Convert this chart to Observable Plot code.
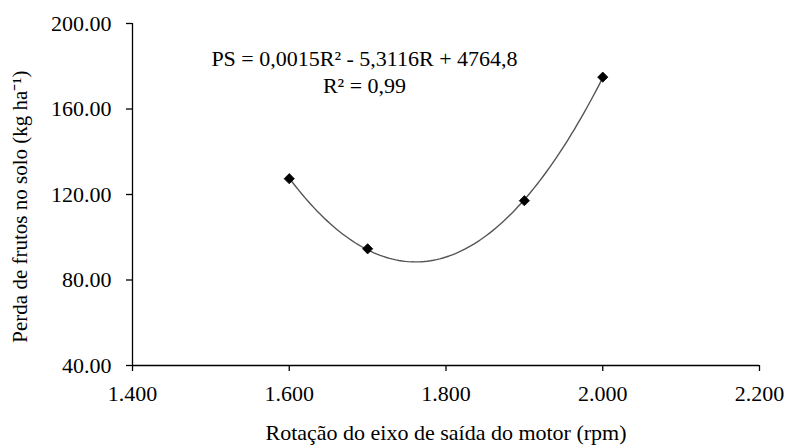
<!DOCTYPE html>
<html>
<head>
<meta charset="utf-8">
<script src="https://cdn.jsdelivr.net/npm/d3@7"></script>
<script src="https://cdn.jsdelivr.net/npm/@observablehq/plot@0.6"></script>
<style>
  html, body { margin: 0; padding: 0; background: #fff; }
  #chart svg { display: block; }
</style>
</head>
<body>
<div id="chart"></div>
<script>
// Data
const rotacao = [1600, 1700, 1900, 2000];          // rpm
const perda = [127.4, 94.6, 117.1, 174.9];          // kg ha-1
const xTicks = [1400, 1600, 1800, 2000, 2200];
const yTicks = [40, 80, 120, 160, 200];
const equationText = "PS = 0,0015R² - 5,3116R + 4764,8";
const r2Text = "R² = 0,99";
const xLabel = "Rotação do eixo de saída do motor (rpm)";
const yLabel = "Perda de frutos no solo (kg ha⁻¹)";

const FONT = "Liberation Serif";
const points = rotacao.map((x, i) => ({x, y: perda[i]}));

// Quadratic least-squares trendline fitted to the data (as the spreadsheet does)
function quadFit(xs, ys) {
  const c = d3.mean(xs), s = 100;
  const u = xs.map(x => (x - c) / s);
  const S = k => d3.sum(u, v => v ** k);
  const T = k => d3.sum(u, (v, i) => v ** k * ys[i]);
  const A = [[S(0), S(1), S(2)], [S(1), S(2), S(3)], [S(2), S(3), S(4)]];
  const b = [T(0), T(1), T(2)];
  for (let i = 0; i < 3; i++) {
    for (let j = i + 1; j < 3; j++) {
      const f = A[j][i] / A[i][i];
      for (let k = i; k < 3; k++) A[j][k] -= f * A[i][k];
      b[j] -= f * b[i];
    }
  }
  const a = [0, 0, 0];
  for (let i = 2; i >= 0; i--) {
    let sum = b[i];
    for (let k = i + 1; k < 3; k++) sum -= A[i][k] * a[k];
    a[i] = sum / A[i][i];
  }
  return x => { const v = (x - c) / s; return a[0] + a[1] * v + a[2] * v * v; };
}
const fit = quadFit(rotacao, perda);
const xs = d3.range(d3.min(rotacao), d3.max(rotacao) + 0.1, 4);
const trend = xs.map(x => ({x, y: fit(x)}));

const fmtX = d => String(d).replace(/(\d)(\d{3})$/, "$1.$2");
const fmtY = d => d.toFixed(2);

const chart = Plot.plot({
  width: 791,
  height: 445,
  marginLeft: 132,
  marginRight: 32,
  marginTop: 23,
  marginBottom: 80,
  style: {fontFamily: FONT, fontSize: "22px", color: "#000", background: "#fff"},
  x: {domain: [1400, 2200], ticks: xTicks, tickFormat: fmtX},
  y: {domain: [40, 200], ticks: yTicks, tickFormat: fmtY},
  marks: [
    Plot.axisX({ticks: xTicks, tickFormat: fmtX, tickSize: 6, tickPadding: 14, stroke: "#000", strokeWidth: 1.3, fontSize: 22, fontFamily: FONT, letterSpacing: "2px",
      label: xLabel, labelAnchor: "center", labelArrow: "none", labelOffset: 74}),
    Plot.axisY({ticks: yTicks, tickFormat: fmtY, tickSize: 6, tickPadding: 15, stroke: "#000", strokeWidth: 1.3, fontSize: 22, fontFamily: FONT,
      label: null}),
    Plot.ruleX([1400], {stroke: "#000", strokeWidth: 1.3}),
    Plot.ruleY([40], {stroke: "#000", strokeWidth: 1.3}),
    Plot.text([yLabel], {frameAnchor: "left", text: d => d, rotate: -90, dx: -112, dy: 12, textAnchor: "middle", lineAnchor: "middle", fontSize: 21, fontFamily: FONT, fill: "#000"}),
    Plot.line(trend, {x: "x", y: "y", stroke: "#555", strokeWidth: 1.4}),
    Plot.dot(points, {x: "x", y: "y", symbol: "diamond2", r: 4.6, fill: "#000", stroke: "#000", strokeWidth: 0.8}),
    Plot.text([equationText], {frameAnchor: "top-left", text: d => d, dx: 232, dy: 35, textAnchor: "middle", lineAnchor: "middle", fontSize: 22, fontFamily: FONT, fill: "#000"}),
    Plot.text([r2Text], {frameAnchor: "top-left", text: d => d, dx: 232, dy: 62, textAnchor: "middle", lineAnchor: "middle", fontSize: 22, fontFamily: FONT, fill: "#000"})
  ]
});
chart.style.setProperty("font-family", "'Liberation Serif', serif", "important");
chart.querySelectorAll("text, tspan, g").forEach(el => {
  el.style.setProperty("font-family", "'Liberation Serif', serif", "important");
});
chart.querySelectorAll("text").forEach(el => {
  const fs = el.closest("[font-size]");
  const size = el.getAttribute("font-size") || (fs ? fs.getAttribute("font-size") : "22");
  el.style.setProperty("font-size", size + "px", "important");
});
document.getElementById("chart").appendChild(chart);
</script>
</body>
</html>
